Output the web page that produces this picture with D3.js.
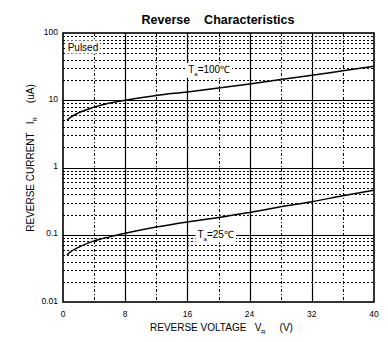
<!DOCTYPE html>
<html><head><meta charset="utf-8">
<script src="https://cdn.jsdelivr.net/npm/d3@7"></script>
<style>body{margin:0;background:#fff}svg{display:block}text{font-family:"Liberation Sans",Arial,sans-serif;fill:#000}</style>
</head><body>
<script>
const voltage = [0.5, 1, 2, 4, 6, 8, 12, 16, 20, 24, 28, 32, 36, 40];
const current100 = [5.0, 5.6, 6.5, 7.9, 9.1, 10.0, 11.8, 13.3, 15.2, 17.5, 20.4, 23.5, 27.5, 32];
const current25 = [0.05, 0.056, 0.065, 0.081, 0.093, 0.105, 0.13, 0.155, 0.18, 0.215, 0.26, 0.31, 0.38, 0.46];
const xTicks = [0, 8, 16, 24, 32, 40];
const xMinor = [4, 12, 20, 28, 36];
const yTicks = [0.01, 0.1, 1, 10, 100];
const yTickLabels = ["0.01", "0.1", "1", "10", "100"];

const W = 388, H = 342;
const m = {l: 63, r: 374, t: 33, b: 302};
const svg = d3.select("body").append("svg").attr("width", W).attr("height", H);
const x = d3.scaleLinear().domain([0, 40]).range([m.l, m.r]);
const y = d3.scaleLog().domain([0.01, 100]).range([m.b, m.t]);

// minor horizontal grid
const yMinor = [];
[0.01, 0.1, 1, 10].forEach(d => { for (let k = 2; k <= 9; k++) yMinor.push(d * k); });
svg.append("g").selectAll("line").data(yMinor).join("line")
  .attr("x1", m.l).attr("x2", m.r).attr("y1", d => Math.round(y(d)) + 0.5).attr("y2", d => Math.round(y(d)) + 0.5)
  .attr("stroke", "#000").attr("stroke-width", 1).attr("stroke-dasharray", "2,2");
// minor vertical grid
svg.append("g").selectAll("line").data(xMinor).join("line")
  .attr("x1", d => Math.round(x(d)) + 0.5).attr("x2", d => Math.round(x(d)) + 0.5).attr("y1", m.t).attr("y2", m.b)
  .attr("stroke", "#000").attr("stroke-width", 1).attr("stroke-dasharray", "3,2,1,2");
// major grid
svg.append("g").selectAll("line").data(yTicks.slice(1, -1)).join("line")
  .attr("x1", m.l).attr("x2", m.r).attr("y1", d => Math.round(y(d)) + 0.5).attr("y2", d => Math.round(y(d)) + 0.5)
  .attr("stroke", "#000").attr("stroke-width", 1.2);
svg.append("g").selectAll("line").data(xTicks.slice(1, -1)).join("line")
  .attr("x1", d => Math.round(x(d)) + 0.5).attr("x2", d => Math.round(x(d)) + 0.5).attr("y1", m.t).attr("y2", m.b)
  .attr("stroke", "#000").attr("stroke-width", 1.2);

// labels with white backgrounds
function label(xv, yv, main, sub, rest) {
  const g = svg.append("g");
  const t = g.append("text").attr("x", x(xv)).attr("y", y(yv)).attr("font-size", 10).attr("dominant-baseline", "middle");
  t.append("tspan").text(main);
  if (sub) t.append("tspan").attr("font-size", 6).attr("dy", 4).text(sub);
  if (rest) t.append("tspan").attr("dy", sub ? -4 : 0).text(rest);
  const bb = t.node().getBBox();
  g.insert("rect", "text").attr("x", bb.x - 2).attr("y", bb.y - 1).attr("width", bb.width + 4).attr("height", bb.height + 2).attr("fill", "#fff");
}
label(0.6, 60, "Pulsed", null, null);
label(16.1, 28, "T", "a", "=100℃");
label(17.3, 0.1, "T", "a", "=25℃");

// curves
const line = d3.line().x(d => x(d[0])).y(d => y(d[1])).curve(d3.curveMonotoneX);
[current100, current25].forEach(s => {
  svg.append("path").datum(voltage.map((v, i) => [v, s[i]])).attr("d", line)
    .attr("fill", "none").attr("stroke", "#000").attr("stroke-width", 1.5);
});

// frame
svg.append("rect").attr("x", m.l).attr("y", m.t).attr("width", m.r - m.l).attr("height", m.b - m.t)
  .attr("fill", "none").attr("stroke", "#000").attr("stroke-width", 1.6);

// tick labels
svg.append("g").selectAll("text").data(yTicks).join("text")
  .attr("x", m.l - 5).attr("y", d => y(d)).attr("text-anchor", "end").attr("font-size", 8.5)
  .attr("dy", "0.2em").text((d, i) => yTickLabels[i]);
svg.append("g").selectAll("text").data(xTicks).join("text")
  .attr("x", d => x(d)).attr("y", m.b + 15).attr("text-anchor", "middle").attr("font-size", 8.5).text(d => d);

// titles
svg.append("text").attr("x", 218).attr("y", 24).attr("text-anchor", "middle").attr("font-size", 12.5)
  .attr("font-weight", "bold").attr("xml:space", "preserve").text("Reverse    Characteristics");
const xt = svg.append("text").attr("x", 150).attr("y", 331).attr("font-size", 10).attr("xml:space", "preserve");
xt.append("tspan").text("REVERSE VOLTAGE   V");
xt.append("tspan").attr("font-size", 6).attr("dy", 3).text("R");
xt.append("tspan").attr("dy", -3).text("     (V)");
const yt = svg.append("text").attr("transform", "translate(34,158) rotate(-90)").attr("text-anchor", "middle")
  .attr("font-size", 10).attr("xml:space", "preserve");
yt.append("tspan").text("REVERSE CURRENT   I");
yt.append("tspan").attr("font-size", 6).attr("dy", 3).text("R");
yt.append("tspan").attr("dy", -3).text("     (uA)");
</script>
</body></html>
